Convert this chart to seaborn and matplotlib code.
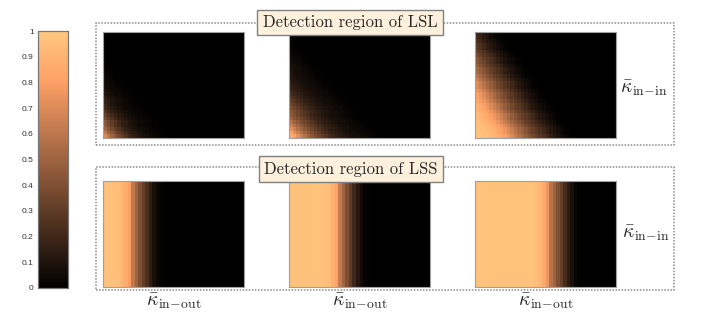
import numpy as np
import matplotlib.pyplot as plt
import seaborn as sns
from matplotlib.patches import Rectangle

# detection region of LSL: 30 rows (top -> bottom) x 40 columns,
# each row lists its leading cells only, the rest of the row is 0
lsl_a = [
    [], [], [], [], [], [], [], [],
    [0.01],
    [0.015, 0.01],
    [0.02, 0.015, 0.01],
    [0.03, 0.02, 0.015, 0.01],
    [0.04, 0.03, 0.02, 0.015, 0.01],
    [0.04, 0.03, 0.02, 0.015, 0.01],
    [0.05, 0.04, 0.03, 0.02, 0.015, 0.01],
    [0.06, 0.05, 0.04, 0.03, 0.02, 0.015, 0.01],
    [0.08, 0.06, 0.05, 0.04, 0.03, 0.02, 0.015, 0.01],
    [0.1, 0.08, 0.06, 0.05, 0.04, 0.03, 0.02, 0.015, 0.01],
    [0.13, 0.1, 0.08, 0.06, 0.05, 0.04, 0.03, 0.02, 0.015, 0.01],
    [0.16, 0.13, 0.1, 0.08, 0.06, 0.05, 0.04, 0.03, 0.02, 0.015, 0.01],
    [0.17, 0.13, 0.1, 0.08, 0.06, 0.05, 0.04, 0.03, 0.02, 0.015, 0.01],
    [0.2, 0.16, 0.13, 0.1, 0.08, 0.06, 0.05, 0.04, 0.03, 0.02, 0.015, 0.01],
    [0.25, 0.2, 0.16, 0.13, 0.1, 0.08, 0.06, 0.05, 0.04, 0.03, 0.02, 0.015, 0.01],
    [0.3, 0.25, 0.2, 0.16, 0.13, 0.1, 0.08, 0.06, 0.05, 0.04, 0.03, 0.02, 0.015, 0.01],
    [0.36, 0.3, 0.25, 0.2, 0.16, 0.13, 0.1, 0.08, 0.06, 0.05, 0.04, 0.03, 0.02, 0.015, 0.01],
    [0.43, 0.36, 0.3, 0.25, 0.2, 0.16, 0.13, 0.1, 0.08, 0.06, 0.05, 0.04, 0.03, 0.02, 0.015, 0.01],
    [0.44, 0.37, 0.31, 0.25, 0.2, 0.16, 0.13, 0.1, 0.08, 0.06, 0.05, 0.04, 0.03, 0.02, 0.015, 0.01],
    [0.5, 0.43, 0.36, 0.3, 0.25, 0.2, 0.16, 0.13, 0.1, 0.08, 0.06, 0.05, 0.04, 0.03, 0.02, 0.015, 0.01],
    [0.6, 0.5, 0.43, 0.36, 0.3, 0.25, 0.2, 0.16, 0.13, 0.1, 0.08, 0.06, 0.05, 0.04, 0.03, 0.02, 0.015, 0.01],
    [0.7, 0.6, 0.5, 0.43, 0.36, 0.3, 0.25, 0.2, 0.16, 0.13, 0.1, 0.08, 0.06, 0.05, 0.04, 0.03, 0.02, 0.015, 0.01],
]
lsl_b = [
    [], [],
    [0.01],
    [0.015, 0.01],
    [0.02, 0.015, 0.01],
    [0.03, 0.02, 0.015, 0.01],
    [0.04, 0.03, 0.02, 0.015, 0.01],
    [0.05, 0.04, 0.03, 0.02, 0.015, 0.01],
    [0.06, 0.05, 0.04, 0.03, 0.02, 0.015, 0.01],
    [0.07, 0.06, 0.05, 0.04, 0.03, 0.02, 0.015, 0.01],
    [0.08, 0.07, 0.06, 0.05, 0.04, 0.03, 0.02, 0.015, 0.01],
    [0.09, 0.07, 0.06, 0.05, 0.04, 0.03, 0.02, 0.015, 0.01],
    [0.1, 0.08, 0.07, 0.06, 0.05, 0.04, 0.03, 0.02, 0.015, 0.01],
    [0.12, 0.1, 0.08, 0.07, 0.06, 0.05, 0.04, 0.03, 0.02, 0.015, 0.01],
    [0.14, 0.12, 0.1, 0.08, 0.07, 0.06, 0.05, 0.04, 0.03, 0.02, 0.015, 0.01],
    [0.16, 0.14, 0.12, 0.1, 0.08, 0.07, 0.06, 0.05, 0.04, 0.03, 0.02, 0.015, 0.01],
    [0.19, 0.16, 0.14, 0.12, 0.1, 0.08, 0.07, 0.06, 0.05, 0.04, 0.03, 0.02, 0.015, 0.01],
    [0.22, 0.19, 0.16, 0.14, 0.12, 0.1, 0.08, 0.07, 0.06, 0.05, 0.04, 0.03, 0.02, 0.015, 0.01],
    [0.26, 0.22, 0.19, 0.16, 0.14, 0.12, 0.1, 0.08, 0.07, 0.06, 0.05, 0.04, 0.03, 0.02, 0.015, 0.01],
    [0.3, 0.26, 0.22, 0.19, 0.16, 0.14, 0.12, 0.1, 0.08, 0.07, 0.06, 0.05, 0.04, 0.03, 0.02, 0.015, 0.01],
    [0.34, 0.3, 0.26, 0.22, 0.19, 0.16, 0.14, 0.12, 0.1, 0.08, 0.07, 0.06, 0.05, 0.04, 0.03, 0.02, 0.015, 0.01],
    [0.39, 0.34, 0.3, 0.26, 0.22, 0.19, 0.16, 0.14, 0.12, 0.1, 0.08, 0.07, 0.06, 0.05, 0.04, 0.03, 0.02, 0.015, 0.01],
    [0.44, 0.39, 0.34, 0.3, 0.26, 0.22, 0.19, 0.16, 0.14, 0.12, 0.1, 0.08, 0.07, 0.06, 0.05, 0.04, 0.03, 0.02, 0.015, 0.01],
    [0.45, 0.4, 0.35, 0.3, 0.26, 0.22, 0.19, 0.16, 0.14, 0.12, 0.1, 0.08, 0.07, 0.06, 0.05, 0.04, 0.03, 0.02, 0.015, 0.01],
    [0.5, 0.44, 0.39, 0.34, 0.3, 0.26, 0.22, 0.19, 0.16, 0.14, 0.12, 0.1, 0.08, 0.07, 0.06, 0.05, 0.04, 0.03, 0.02, 0.015, 0.01],
    [0.57, 0.5, 0.44, 0.39, 0.34, 0.3, 0.26, 0.22, 0.19, 0.16, 0.14, 0.12, 0.1, 0.08, 0.07, 0.06, 0.05, 0.04, 0.03, 0.02, 0.015, 0.01],
    [0.64, 0.57, 0.5, 0.44, 0.39, 0.34, 0.3, 0.26, 0.22, 0.19, 0.16, 0.14, 0.12, 0.1, 0.08, 0.07, 0.06, 0.05, 0.04, 0.03, 0.02, 0.015, 0.01],
    [0.72, 0.64, 0.57, 0.5, 0.44, 0.39, 0.34, 0.3, 0.26, 0.22, 0.19, 0.16, 0.14, 0.12, 0.1, 0.08, 0.07, 0.06, 0.05, 0.04, 0.03, 0.02, 0.015, 0.01],
    [0.82, 0.72, 0.64, 0.57, 0.5, 0.44, 0.39, 0.34, 0.3, 0.26, 0.22, 0.19, 0.16, 0.14, 0.12, 0.1, 0.08, 0.07, 0.06, 0.05, 0.04, 0.03, 0.02, 0.015, 0.01],
    [0.88, 0.82, 0.72, 0.64, 0.57, 0.5, 0.44, 0.39, 0.34, 0.3, 0.26, 0.22, 0.19, 0.16, 0.14, 0.12, 0.1, 0.08, 0.07, 0.06, 0.05, 0.04, 0.03, 0.02, 0.015, 0.01],
]
lsl_c = [
    [0.2, 0.16, 0.12, 0.09, 0.06, 0.04, 0.02, 0.01],
    [0.21, 0.17, 0.13, 0.09, 0.06, 0.04, 0.02, 0.01],
    [0.24, 0.2, 0.16, 0.12, 0.09, 0.06, 0.04, 0.02, 0.01],
    [0.28, 0.24, 0.2, 0.16, 0.12, 0.09, 0.06, 0.04, 0.02, 0.01],
    [0.29, 0.25, 0.2, 0.16, 0.12, 0.09, 0.06, 0.04, 0.02, 0.01],
    [0.32, 0.28, 0.24, 0.2, 0.16, 0.12, 0.09, 0.06, 0.04, 0.02, 0.01],
    [0.37, 0.32, 0.28, 0.24, 0.2, 0.16, 0.12, 0.09, 0.06, 0.04, 0.02, 0.01],
    [0.42, 0.37, 0.32, 0.28, 0.24, 0.2, 0.16, 0.12, 0.09, 0.06, 0.04, 0.02, 0.01],
    [0.43, 0.38, 0.33, 0.28, 0.24, 0.2, 0.16, 0.12, 0.09, 0.06, 0.04, 0.02, 0.01],
    [0.47, 0.42, 0.37, 0.32, 0.28, 0.24, 0.2, 0.16, 0.12, 0.09, 0.06, 0.04, 0.02, 0.01],
    [0.52, 0.47, 0.42, 0.37, 0.32, 0.28, 0.24, 0.2, 0.16, 0.12, 0.09, 0.06, 0.04, 0.02, 0.01],
    [0.53, 0.48, 0.43, 0.38, 0.33, 0.28, 0.24, 0.2, 0.16, 0.12, 0.09, 0.06, 0.04, 0.02, 0.01],
    [0.58, 0.52, 0.47, 0.42, 0.37, 0.32, 0.28, 0.24, 0.2, 0.16, 0.12, 0.09, 0.06, 0.04, 0.02, 0.01],
    [0.64, 0.58, 0.52, 0.47, 0.42, 0.37, 0.32, 0.28, 0.24, 0.2, 0.16, 0.12, 0.09, 0.06, 0.04, 0.02, 0.01],
    [0.7, 0.64, 0.58, 0.52, 0.47, 0.42, 0.37, 0.32, 0.28, 0.24, 0.2, 0.16, 0.12, 0.09, 0.06, 0.04, 0.02, 0.01],
    [0.71, 0.65, 0.59, 0.53, 0.47, 0.42, 0.37, 0.32, 0.28, 0.24, 0.2, 0.16, 0.12, 0.09, 0.06, 0.04, 0.02, 0.01],
    [0.75, 0.7, 0.64, 0.58, 0.52, 0.47, 0.42, 0.37, 0.32, 0.28, 0.24, 0.2, 0.16, 0.12, 0.09, 0.06, 0.04, 0.02, 0.01],
    [0.8, 0.75, 0.7, 0.64, 0.58, 0.52, 0.47, 0.42, 0.37, 0.32, 0.28, 0.24, 0.2, 0.16, 0.12, 0.09, 0.06, 0.04, 0.02, 0.01],
    [0.81, 0.76, 0.71, 0.65, 0.59, 0.53, 0.47, 0.42, 0.37, 0.32, 0.28, 0.24, 0.2, 0.16, 0.12, 0.09, 0.06, 0.04, 0.02, 0.01],
    [0.84, 0.8, 0.75, 0.7, 0.64, 0.58, 0.52, 0.47, 0.42, 0.37, 0.32, 0.28, 0.24, 0.2, 0.16, 0.12, 0.09, 0.06, 0.04, 0.02, 0.01],
    [0.88, 0.84, 0.8, 0.75, 0.7, 0.64, 0.58, 0.52, 0.47, 0.42, 0.37, 0.32, 0.28, 0.24, 0.2, 0.16, 0.12, 0.09, 0.06, 0.04, 0.02, 0.01],
    [0.89, 0.85, 0.81, 0.76, 0.71, 0.65, 0.59, 0.53, 0.47, 0.42, 0.37, 0.32, 0.28, 0.24, 0.2, 0.16, 0.12, 0.09, 0.06, 0.04, 0.02, 0.01],
    [0.91, 0.88, 0.84, 0.8, 0.75, 0.7, 0.64, 0.58, 0.52, 0.47, 0.42, 0.37, 0.32, 0.28, 0.24, 0.2, 0.16, 0.12, 0.09, 0.06, 0.04, 0.02, 0.01],
    [0.93, 0.91, 0.88, 0.84, 0.8, 0.75, 0.7, 0.64, 0.58, 0.52, 0.47, 0.42, 0.37, 0.32, 0.28, 0.24, 0.2, 0.16, 0.12, 0.09, 0.06, 0.04, 0.02, 0.01],
    [0.94, 0.92, 0.89, 0.85, 0.81, 0.76, 0.71, 0.65, 0.59, 0.53, 0.47, 0.42, 0.37, 0.32, 0.28, 0.24, 0.2, 0.16, 0.12, 0.09, 0.06, 0.04, 0.02, 0.01],
    [0.95, 0.93, 0.91, 0.88, 0.84, 0.8, 0.75, 0.7, 0.64, 0.58, 0.52, 0.47, 0.42, 0.37, 0.32, 0.28, 0.24, 0.2, 0.16, 0.12, 0.09, 0.06, 0.04, 0.02, 0.01],
    [0.96, 0.95, 0.93, 0.91, 0.88, 0.84, 0.8, 0.75, 0.7, 0.64, 0.58, 0.52, 0.47, 0.42, 0.37, 0.32, 0.28, 0.24, 0.2, 0.16, 0.12, 0.09, 0.06, 0.04, 0.02, 0.01],
    [0.97, 0.96, 0.95, 0.93, 0.91, 0.88, 0.84, 0.8, 0.75, 0.7, 0.64, 0.58, 0.52, 0.47, 0.42, 0.37, 0.32, 0.28, 0.24, 0.2, 0.16, 0.12, 0.09, 0.06, 0.04, 0.02, 0.01],
    [0.97, 0.96, 0.95, 0.94, 0.92, 0.89, 0.85, 0.81, 0.76, 0.71, 0.65, 0.59, 0.53, 0.47, 0.42, 0.37, 0.32, 0.28, 0.24, 0.2, 0.16, 0.12, 0.09, 0.06, 0.04, 0.02, 0.01],
    [0.98, 0.97, 0.96, 0.95, 0.93, 0.91, 0.88, 0.84, 0.8, 0.75, 0.7, 0.64, 0.58, 0.52, 0.47, 0.42, 0.37, 0.32, 0.28, 0.24, 0.2, 0.16, 0.12, 0.09, 0.06, 0.04, 0.02, 0.01],
]

# detection region of LSS: one column profile (leading cells), same in every row
lss_a = [0.97, 0.97, 0.97, 0.96, 0.95, 0.9, 0.86, 0.8, 0.6, 0.5, 0.4, 0.32, 0.24,
         0.15, 0.08, 0.04, 0.02, 0.01]
lss_b = [0.97, 0.97, 0.97, 0.97, 0.97, 0.97, 0.97, 0.97, 0.97, 0.97, 0.96, 0.94,
         0.88, 0.82, 0.62, 0.5, 0.4, 0.3, 0.2, 0.12, 0.06, 0.02, 0.01]
lss_c = [0.97, 0.97, 0.97, 0.97, 0.97, 0.97, 0.97, 0.97, 0.97, 0.97, 0.97, 0.97,
         0.97, 0.97, 0.97, 0.97, 0.97, 0.96, 0.92, 0.85, 0.75, 0.58, 0.5, 0.4,
         0.32, 0.22, 0.14, 0.08, 0.03, 0.01]

cbar_ticks = [0, 0.1, 0.2, 0.3, 0.4, 0.5, 0.6, 0.7, 0.8, 0.9, 1]
cbar_labels = ["0", "0.1", "0.2", "0.3", "0.4", "0.5", "0.6", "0.7", "0.8", "0.9", "1"]

n_rows, n_cols = 30, 40


def grid_from_rows(rows):
    g = np.zeros((n_rows, n_cols))
    for i, r in enumerate(rows):
        g[i, :len(r)] = r
    return g


def grid_from_profile(prof):
    return grid_from_rows([prof] * n_rows)


sns.set_style("white")
plt.rcParams["font.family"] = "serif"
plt.rcParams["font.serif"] = ["cmr10", "DejaVu Serif"]
plt.rcParams["mathtext.fontset"] = "cm"
plt.rcParams["axes.unicode_minus"] = False

W, H = 706, 314
fig = plt.figure(figsize=(W / 100, H / 100), dpi=100)


def px_axes(x0, y0, x1, y1):
    return fig.add_axes([x0 / W, 1 - y1 / H, (x1 - x0) / W, (y1 - y0) / H])


cax = px_axes(38, 31, 68, 288)

panels = [
    (lsl_a, False, 103, 32), (lsl_b, False, 289, 32), (lsl_c, False, 475, 32),
    (lss_a, True, 103, 181), (lss_b, True, 289, 181), (lss_c, True, 475, 181),
]

for k, (vals, is_prof, x0, y0) in enumerate(panels):
    ax = px_axes(x0, y0, x0 + 141, y0 + 106)
    data = grid_from_profile(vals) if is_prof else grid_from_rows(vals)
    sns.heatmap(data, ax=ax, cmap="copper", vmin=0, vmax=1,
                cbar=(k == 0), cbar_ax=cax if k == 0 else None,
                xticklabels=False, yticklabels=False, rasterized=True)
    for s in ax.spines.values():
        s.set_visible(True)
        s.set_color("#a0a0a0")
        s.set_linewidth(0.8)

# colorbar styling
cax.yaxis.set_ticks_position("left")
cax.set_yticks(cbar_ticks)
cax.set_yticklabels(cbar_labels, fontfamily="Liberation Sans", fontsize=6, color="#333333")
cax.tick_params(axis="y", direction="in", length=3, width=0.5, color="#555555", pad=3)
for s in cax.spines.values():
    s.set_visible(True)
    s.set_color("#777777")
    s.set_linewidth(0.8)

# dotted group frames
for y0, y1 in [(22.5, 145), (166.5, 290)]:
    fig.add_artist(Rectangle((96 / W, 1 - y1 / H), 578 / W, (y1 - y0) / H,
                             transform=fig.transFigure, fill=False,
                             ec="#8c8c8c", lw=1.1, ls=(0, (1, 1)), zorder=1))

box = dict(boxstyle="square,pad=0.32", fc="#fdf0dc", ec="#808080", lw=1)
fig.text(350 / W, 1 - 22.5 / H, "Detection region of LSL", fontsize=12,
         ha="center", va="center", bbox=box, zorder=5)
fig.text(351 / W, 1 - 169 / H, "Detection region of LSS", fontsize=12,
         ha="center", va="center", bbox=box, zorder=5)

kin = r"$\bar{\kappa}_{\mathrm{in}\!-\!\mathrm{in}}$"
kout = r"$\bar{\kappa}_{\mathrm{in}\!-\!\mathrm{out}}$"
fig.text(620 / W, 1 - 88 / H, kin, fontsize=14, ha="left", va="center", zorder=5)
fig.text(622 / W, 1 - 233 / H, kin, fontsize=14, ha="left", va="center", zorder=5)
for cx in [173.5, 359.5, 545.5]:
    fig.text(cx / W, 1 - 301 / H, kout, fontsize=14, ha="center", va="center", zorder=5)

fig.savefig("out.png", dpi=100)
